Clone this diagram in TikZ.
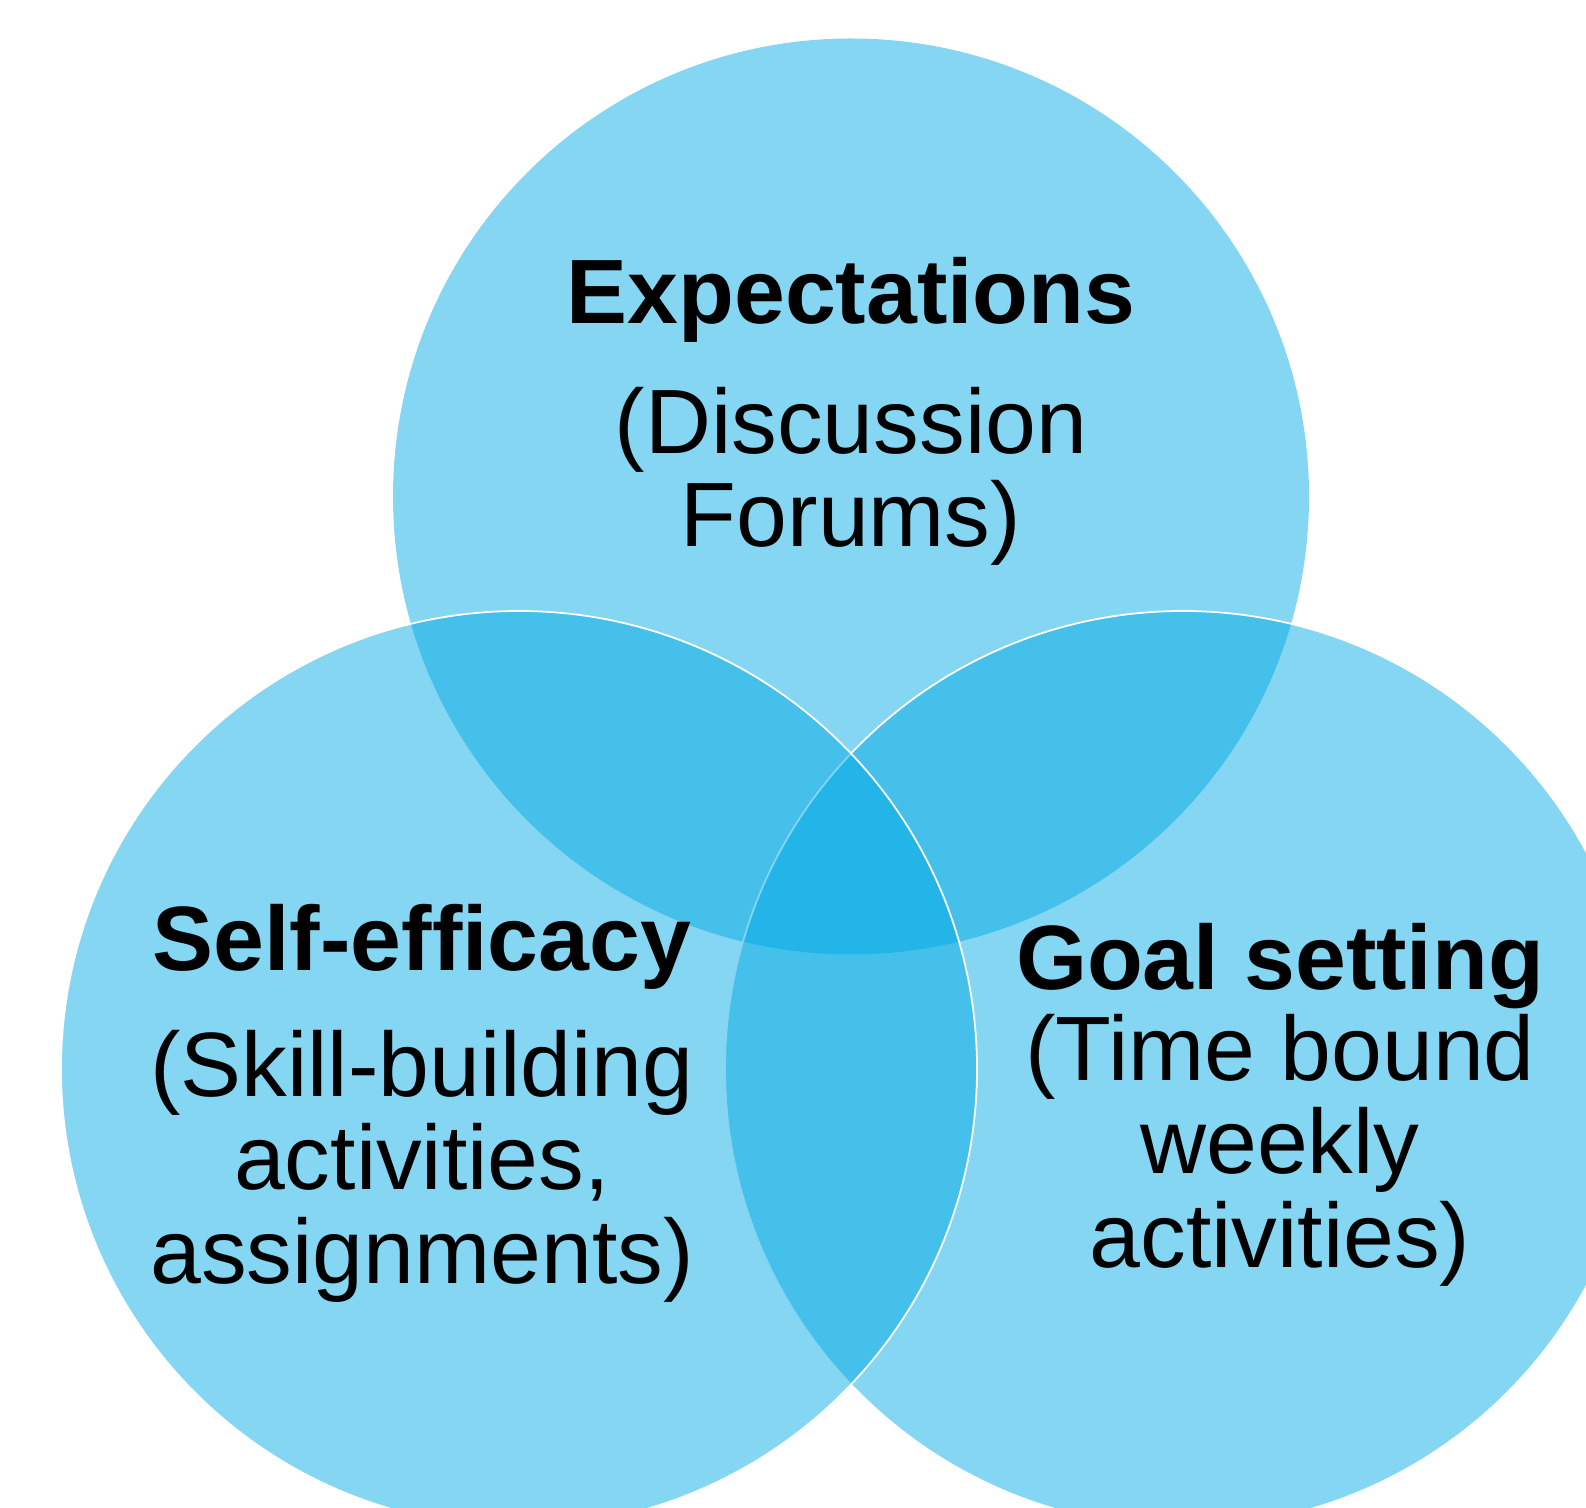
\documentclass[tikz,border=0pt]{standalone}
\usepackage{fontspec}
\setmainfont{Liberation Sans}
\definecolor{vennblue}{RGB}{0,169,228}
\tikzset{
  venn/.style={fill=vennblue,fill opacity=0.48},
  rim/.style={draw=white,line width=0.5pt},
  title/.style={font=\fontsize{26}{26.5}\selectfont\bfseries,anchor=base,inner sep=0pt},
  body/.style={font=\fontsize{26}{26.5}\selectfont,align=center,anchor=base,inner sep=0pt}
}
\begin{document}
\begin{tikzpicture}
  \useasboundingbox (0,0) rectangle (15.86,15.07);
  \clip (0,0) rectangle (15.86,15.07);
  % the three circles
  \path[venn] (8.51,10.105) circle (4.58);
  \path[venn,rim] (11.83,4.38) circle (4.58);
  \path[venn,rim] (5.19,4.38) circle (4.58);
  % labels (body nodes sit on the baseline of their last line)
  \node[title] (expect) at (8.51,11.83) {Expectations};
  \node[body] (forums) at (8.51,9.60) {(Discussion\\Forums)};
  \node[title] (selfeff) at (4.22,5.36) {Self-efficacy};
  \node[body] (skills) at (4.22,2.24) {(Skill-building\\activities,\\assignments)};
  \node[title] (goal) at (12.80,5.18) {Goal setting};
  \node[body] (weekly) at (12.80,2.40) {(Time bound\\weekly\\activities)};
\end{tikzpicture}
\end{document}
